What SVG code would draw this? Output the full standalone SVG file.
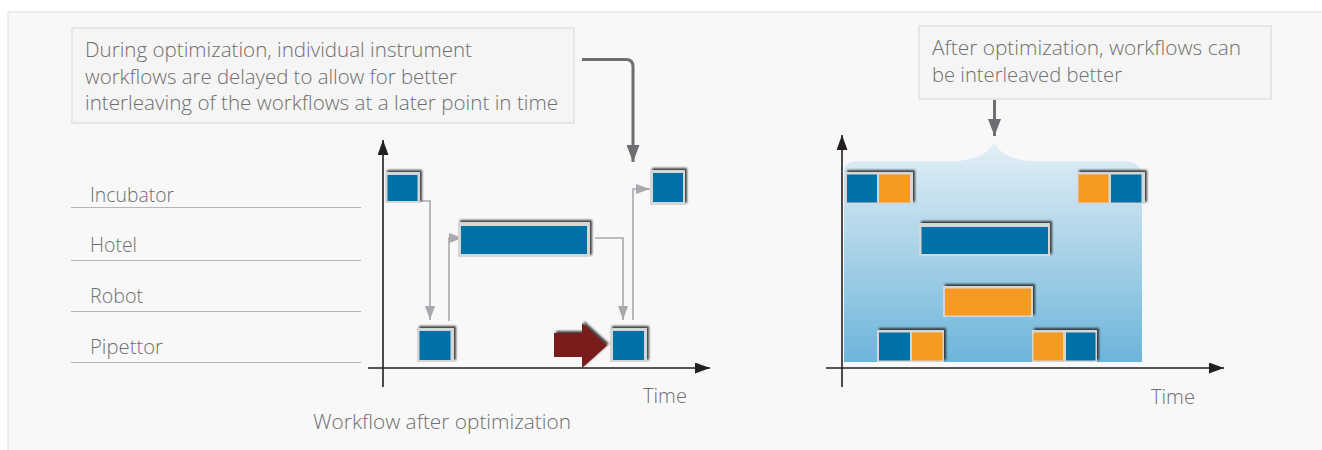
<svg xmlns="http://www.w3.org/2000/svg" width="1322" height="450" viewBox="0 0 1322 450">
<style>
.t{font-family:"Open Sans","Liberation Sans",Arial,sans-serif;font-size:20px;font-weight:300;fill:#6f6f6f}
.callout{fill:#f5f5f5;stroke:#e6e6e6;stroke-width:2}
.rowline{stroke:#b5b5b5;stroke-width:1.2}
.axis{stroke:#231f20;stroke-width:1.6;fill:none}
.conn{stroke:#a7a9ac;stroke-width:1.6;fill:none}
.dark{stroke:#6d6e71;stroke-width:3;fill:none}
.frame{fill:#d6d6d6}
.blue{fill:#0071a6}
.orange{fill:#f79a24}
</style>
<defs>
<marker id="ga" viewBox="0 0 14 10" refX="14" refY="5" markerWidth="14" markerHeight="10" markerUnits="userSpaceOnUse" orient="auto"><path d="M0,0 L14,5 L0,10 Z" fill="#a7a9ac"/></marker>
<marker id="da" viewBox="0 0 17 13" refX="17" refY="6.5" markerWidth="17" markerHeight="13" markerUnits="userSpaceOnUse" orient="auto"><path d="M0,0 L17,6.5 L0,13 Z" fill="#6d6e71"/></marker>
<marker id="ka" viewBox="0 0 15 11" refX="15" refY="5.5" markerWidth="15" markerHeight="11" markerUnits="userSpaceOnUse" orient="auto"><path d="M0,0 L15,5.5 L0,11 Z" fill="#231f20"/></marker>
<filter id="sh" x="-20%" y="-30%" width="140%" height="160%">
<feGaussianBlur in="SourceAlpha" stdDeviation="1.2"/>
<feOffset dx="2" dy="-2" result="b"/>
<feFlood flood-color="#222" flood-opacity="0.85"/>
<feComposite in2="b" operator="in"/>
<feMerge><feMergeNode/><feMergeNode in="SourceGraphic"/></feMerge>
</filter>
<linearGradient id="cloud" x1="0" y1="0" x2="0" y2="1">
<stop offset="0" stop-color="#e3eff6"/>
<stop offset="0.5" stop-color="#a9d2e8"/>
<stop offset="1" stop-color="#6db5da"/>
</linearGradient>
</defs>
<rect x="0" y="0" width="1322" height="450" fill="#ffffff"/>
<rect x="8" y="12" width="1316" height="440" fill="#f8f8f8" stroke="#e8e8e8" stroke-width="1.5"/>

<!-- Left callout -->
<g id="callout-left">
<rect class="callout" x="72" y="28" width="502" height="95"/>
<text class="t" x="85" y="57" textLength="387" lengthAdjust="spacingAndGlyphs">During optimization, individual instrument</text>
<text class="t" x="85" y="84" textLength="372" lengthAdjust="spacingAndGlyphs">workflows are delayed to allow for better</text>
<text class="t" x="85" y="110" textLength="473" lengthAdjust="spacingAndGlyphs">interleaving of the workflows at a later point in time</text>
</g>

<!-- Row labels -->
<g id="row-labels">
<text class="t" x="90" y="202" textLength="84" lengthAdjust="spacingAndGlyphs">Incubator</text>
<line class="rowline" x1="71" y1="207.5" x2="361" y2="207.5"/>
<text class="t" x="90" y="252" textLength="47" lengthAdjust="spacingAndGlyphs">Hotel</text>
<line class="rowline" x1="71" y1="260.5" x2="361" y2="260.5"/>
<text class="t" x="90" y="303" textLength="53" lengthAdjust="spacingAndGlyphs">Robot</text>
<line class="rowline" x1="71" y1="311.5" x2="361" y2="311.5"/>
<text class="t" x="90" y="354" textLength="73" lengthAdjust="spacingAndGlyphs">Pipettor</text>
<line class="rowline" x1="71" y1="362.5" x2="361" y2="362.5"/>
</g>

<!-- Left axes -->
<g id="axes-left">
<line class="axis" x1="383" y1="387" x2="383" y2="140" marker-end="url(#ka)"/>
<line class="axis" x1="368" y1="368" x2="710" y2="368" marker-end="url(#ka)"/>
<text class="t" x="643" y="403" textLength="44" lengthAdjust="spacingAndGlyphs">Time</text>
<text class="t" x="313" y="429" textLength="258" lengthAdjust="spacingAndGlyphs">Workflow after optimization</text>
</g>

<!-- Connectors -->
<g id="connectors">
<path class="conn" d="M420,201 H430 V320" marker-end="url(#ga)"/>
<path class="conn" d="M449,321 V238 H463" marker-end="url(#ga)"/>
<path class="conn" d="M595,238 H623 V320" marker-end="url(#ga)"/>
<path class="conn" d="M633,320 V189 H650" marker-end="url(#ga)"/>
<path class="dark" d="M582,59.5 H626 Q633,59.5 633,66.5 V162" marker-end="url(#da)"/>
<line class="dark" x1="994.5" y1="100" x2="994.5" y2="136" marker-end="url(#da)"/>
</g>

<!-- Left chart boxes -->
<g id="incubator-1" filter="url(#sh)"><rect class="frame" x="385" y="172" width="35" height="31"/><rect class="blue" x="387.5" y="175" width="30" height="26"/></g>
<g id="pipettor-1" filter="url(#sh)"><rect class="frame" x="417" y="328" width="37" height="34"/><rect class="blue" x="419.5" y="331" width="31" height="29"/></g>
<g id="hotel-1" filter="url(#sh)"><rect class="frame" x="458" y="222" width="132" height="35"/><rect class="blue" x="461" y="226" width="126" height="28"/></g>
<g id="pipettor-2" filter="url(#sh)"><rect class="frame" x="610" y="328" width="37" height="34"/><rect class="blue" x="613" y="331" width="31" height="29"/></g>
<g id="incubator-2" filter="url(#sh)"><rect class="frame" x="650" y="170" width="35" height="35"/><rect class="blue" x="653" y="173" width="30" height="29"/></g>
<g id="delay-arrow" filter="url(#sh)"><polygon points="554,333 582,333 582,323 607,345.5 582,368 582,357 554,357" fill="#7a1f1f"/></g>

<!-- Right callout -->
<g id="callout-right">
<rect class="callout" x="919" y="26" width="352" height="73"/>
<text class="t" x="932" y="55" textLength="309" lengthAdjust="spacingAndGlyphs">After optimization, workflows can</text>
<text class="t" x="932" y="82" textLength="190" lengthAdjust="spacingAndGlyphs">be interleaved better</text>
</g>

<!-- Right chart -->
<g id="interleave-region">
<path d="M844,362 V172 Q844,161.5 856,161.5 H950 Q985,161 994,142 Q1003,161 1038,161.5 H1126 Q1142,161.5 1142,178 V362 Z" fill="url(#cloud)"/>
</g>
<g id="axes-right">
<line class="axis" x1="842" y1="387" x2="842" y2="135" marker-end="url(#ka)"/>
<line class="axis" x1="826" y1="368" x2="1224" y2="368" marker-end="url(#ka)"/>
<text class="t" x="1151" y="404" textLength="44" lengthAdjust="spacingAndGlyphs">Time</text>
</g>
<g id="incubator-r1" filter="url(#sh)"><rect class="frame" x="845" y="172" width="68" height="32"/><rect class="blue" x="847" y="174.5" width="30" height="28"/><rect class="orange" x="879" y="174.5" width="31" height="28"/></g>
<g id="incubator-r2" filter="url(#sh)"><rect class="frame" x="1077" y="172" width="68" height="32"/><rect class="orange" x="1078.5" y="174.5" width="30" height="28"/><rect class="blue" x="1111" y="174.5" width="30.5" height="28"/></g>
<g id="hotel-r" filter="url(#sh)"><rect class="frame" x="919" y="223" width="131" height="33"/><rect class="blue" x="921.5" y="227" width="126.5" height="27"/></g>
<g id="robot-r" filter="url(#sh)"><rect class="frame" x="943" y="286" width="90" height="31"/><rect class="orange" x="945" y="288.5" width="86" height="27"/></g>
<g id="pipettor-r1" filter="url(#sh)"><rect class="frame" x="877" y="330" width="67" height="32"/><rect class="blue" x="879" y="332.5" width="31" height="28"/><rect class="orange" x="912" y="332.5" width="30.5" height="28"/></g>
<g id="pipettor-r2" filter="url(#sh)"><rect class="frame" x="1032" y="330" width="65" height="32"/><rect class="orange" x="1033.5" y="332.5" width="29.5" height="28"/><rect class="blue" x="1066" y="332.5" width="29.5" height="28"/></g>
</svg>
